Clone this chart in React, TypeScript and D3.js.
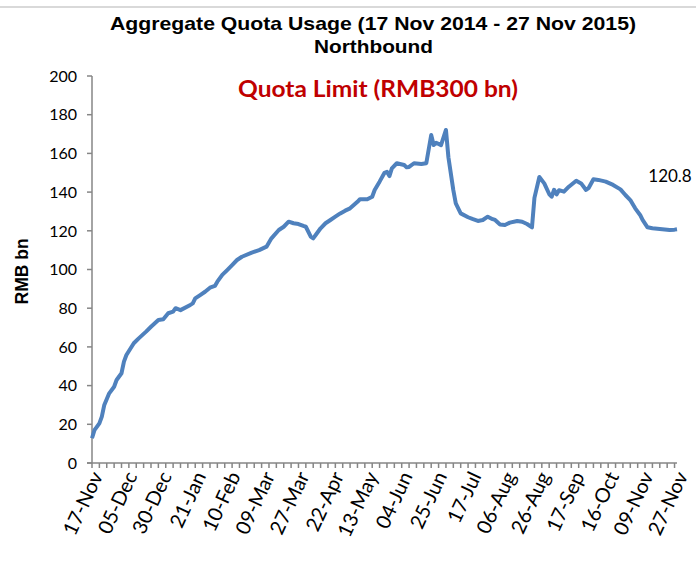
import React from "react";
import * as d3 from "d3";

const W = 696;
const H = 562;

// trading-day index along the category axis, value in RMB bn
const dayIdx = [
  0, 1, 3, 4, 5, 7, 9, 10, 12, 13, 14, 17, 19, 22, 24, 27, 29, 31, 33, 34,
  36, 40, 41, 42, 44, 46, 48, 50, 51, 53, 55, 57, 59, 61, 65, 68, 71, 73, 76, 78,
  80, 82, 84, 86, 87, 89, 90, 91, 93, 95, 97, 99, 101, 103, 105, 108, 109, 112, 114, 115,
  117, 119, 120, 121, 122, 124, 127, 128, 129, 131, 134, 136, 138, 139, 140, 142, 144, 145, 147, 148,
  150, 153, 155, 157, 159, 161, 163, 164, 166, 168, 170, 173, 175, 177, 179, 180, 182, 184, 186, 187,
  188, 189, 190, 192, 194, 197, 199, 201, 202, 204, 206, 209, 212, 215, 217, 219, 221, 223, 224, 226,
  228, 232, 235, 237, 238,
];
const usage = [
  12.8, 17, 20.5, 24, 30, 36, 39.4, 42.9, 46.4, 52.4, 55.8, 61.9, 64.4, 67.9, 70.4, 73.9, 74.3, 77.4, 78.2, 80,
  79, 81.7, 82.5, 85.1, 86.8, 88.5, 90.6, 91.5, 93.7, 97.2, 99.7, 102.3, 104.9, 106.6, 108.7, 110, 111.8, 116.1, 120.4, 122.1,
  124.7, 123.9, 123.5, 122.5, 122.1, 117, 116.1, 117.8, 121.3, 123.9, 125.6, 127.3, 129, 130.4, 131.6, 135, 136.3, 136.3, 137.6, 141.1,
  145.4, 150, 150.5, 148.3, 152.3, 154.9, 154, 152.8, 153, 154.9, 154.5, 154.9, 169.5, 164.3, 165.5, 164.3, 172.1, 158, 141, 134.2,
  129, 127, 126, 125.1, 125.6, 127.3, 126, 125.6, 123.3, 123, 124.2, 125.1, 124.7, 123.5, 121.8, 137, 147.8, 144.5, 139, 137.6,
  141.2, 138.8, 141, 140.2, 142.8, 145.9, 144.5, 141.1, 142, 146.6, 146.3, 145.4, 143.7, 141.4, 138.5, 135.9, 131.6, 128.2, 125.6, 121.8,
  121.3, 120.8, 120.4, 120.6, 120.8,
];

const xLabels = [
  "17-Nov", "05-Dec", "30-Dec", "21-Jan", "10-Feb", "09-Mar", "27-Mar", "22-Apr", "13-May",
  "04-Jun", "25-Jun", "17-Jul", "06-Aug", "26-Aug", "17-Sep", "16-Oct", "09-Nov", "27-Nov",
];
const yTicks = [0, 20, 40, 60, 80, 100, 120, 140, 160, 180, 200];
const LAST_DAY = 238;
const LABEL_EVERY = 14;
const TICK_EVERY = 3;

const calibri = "Lato, 'Open Sans', sans-serif";
const arial = "'Liberation Sans', Arial, sans-serif";

export default function App() {
  const x = d3.scaleLinear().domain([0, LAST_DAY]).range([92, 677]);
  const y = d3.scaleLinear().domain([0, 200]).range([463, 76]);

  const points = dayIdx.map((d, i) => [d, usage[i]] as [number, number]);
  const line = d3
    .line<[number, number]>()
    .x(d => x(d[0]))
    .y(d => y(d[1]));

  const minorTicks = d3.range(0, LAST_DAY + 1, TICK_EVERY);
  const last = points[points.length - 1];

  return (
    <svg
      width={W}
      height={H}
      style={{ position: "absolute", left: 0, top: 0, background: "#fff" }}
    >
      <line x1={0} x2={W} y1={7} y2={7} stroke="#d9d9d9" strokeWidth={2} />

      <text x={373} y={30} textAnchor="middle" fontFamily={arial} fontWeight="bold" fontSize={18.5}
        textLength={526} lengthAdjust="spacingAndGlyphs">
        Aggregate Quota Usage (17 Nov 2014 - 27 Nov 2015)
      </text>
      <text x={373.5} y={53} textAnchor="middle" fontFamily={arial} fontWeight="bold" fontSize={18.5}
        textLength={119} lengthAdjust="spacingAndGlyphs">
        Northbound
      </text>
      <text x={378} y={97} textAnchor="middle" fontFamily={calibri} fontWeight="bold" fontSize={22.5} fill="#c00000"
        textLength={280} lengthAdjust="spacingAndGlyphs">
        Quota Limit (RMB300 bn)
      </text>

      <text
        transform={`translate(28, ${y(99)}) rotate(-90)`}
        textAnchor="middle"
        fontFamily={arial}
        fontWeight="bold"
        fontSize={18.5}
        textLength={66}
        lengthAdjust="spacingAndGlyphs"
      >
        RMB bn
      </text>

      {/* y axis */}
      <line x1={x(0)} x2={x(0)} y1={y(200)} y2={y(0)} stroke="#868686" strokeWidth={1.5} />
      {yTicks.map(t => (
        <g key={t}>
          <line x1={x(0) - 5} x2={x(0)} y1={y(t)} y2={y(t)} stroke="#868686" strokeWidth={1.5} />
          <text x={77} y={y(t)} dy="0.36em" textAnchor="end" fontFamily={calibri} fontSize={16}>
            {t}
          </text>
        </g>
      ))}

      {/* x axis */}
      <line x1={x(0) - 5} x2={x(LAST_DAY)} y1={y(0)} y2={y(0)} stroke="#868686" strokeWidth={1.5} />
      {minorTicks.map(t => (
        <line key={t} x1={x(t)} x2={x(t)} y1={y(0)} y2={y(0) + 5} stroke="#868686" strokeWidth={1.5} />
      ))}
      {xLabels.map((lab, i) => {
        const px = x(i * LABEL_EVERY);
        return (
          <text
            key={lab}
            transform={`translate(${px + 5}, ${y(0) + 10}) rotate(-65)`}
            textAnchor="end"
            dy="0.35em"
            fontFamily={calibri}
            fontSize={20}
          >
            {lab}
          </text>
        );
      })}

      <path d={line(points) ?? ""} fill="none" stroke="#4f81bd" strokeWidth={4} strokeLinejoin="round" />

      <text x={670} y={182} textAnchor="middle" fontFamily={calibri} fontSize={17}>
        {last[1].toFixed(1)}
      </text>
    </svg>
  );
}
